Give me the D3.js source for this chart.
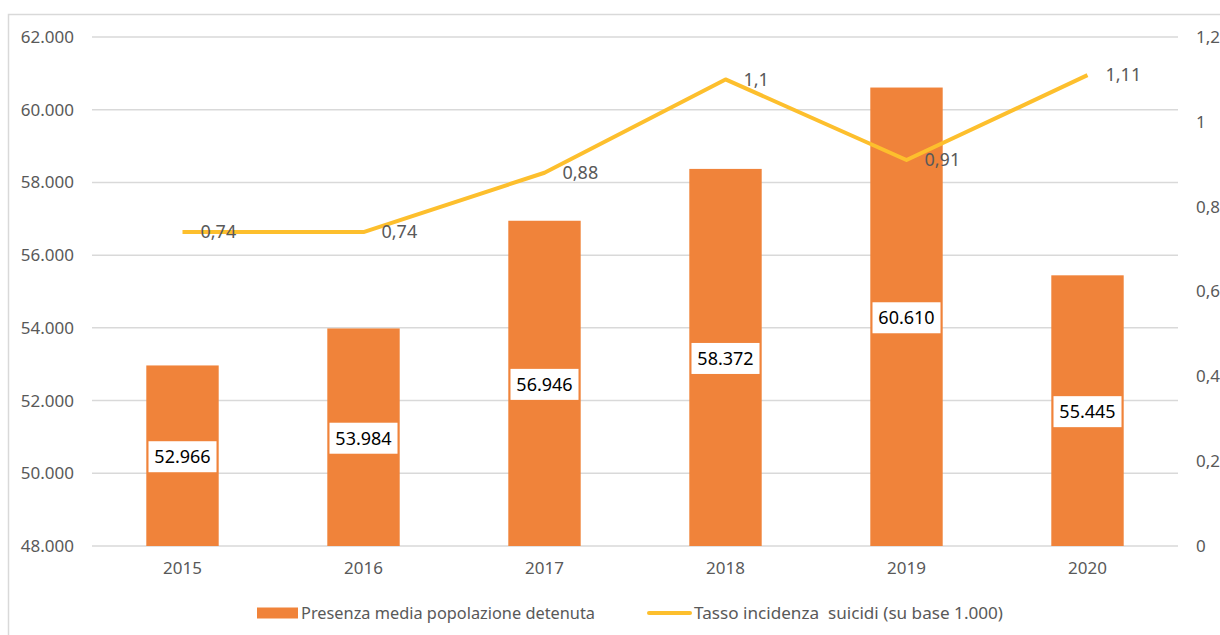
<!DOCTYPE html>
<html>
<head>
<meta charset="utf-8">
<script src="https://cdn.jsdelivr.net/npm/d3@7"></script>
<style>
  body { margin: 0; background: #fff; }
  text { font-family: "Noto Sans", sans-serif; }
</style>
</head>
<body>
<div id="chart-area"></div>
<script>
const years = ["2015", "2016", "2017", "2018", "2019", "2020"];
const detenuti = [52966, 53984, 56946, 58372, 60610, 55445];
const tasso = [0.74, 0.74, 0.88, 1.1, 0.91, 1.11];
const leftTicks = [48000, 50000, 52000, 54000, 56000, 58000, 60000, 62000];
const rightTicks = [0, 0.2, 0.4, 0.6, 0.8, 1, 1.2];

const W = 1220, H = 635;
const margin = {top: 37, right: 42, bottom: 89, left: 92},
    width = W - margin.left - margin.right,
    height = H - margin.top - margin.bottom;

const itNum = d3.formatLocale({decimal: ",", thousands: ".", grouping: [3], currency: ["€", ""]});
const fmtInt = itNum.format(",.0f");
const fmtRate = v => String(v).replace(".", ",");

const svg = d3.select("#chart-area").append("svg")
    .attr("width", W).attr("height", H);

// chart border
svg.append("rect")
    .attr("x", 8.5).attr("y", 14.5)
    .attr("width", W + 10).attr("height", H + 10)
    .attr("fill", "none").attr("stroke", "#d9d9d9").attr("stroke-width", 1.5);

const g = svg.append("g").attr("transform", `translate(${margin.left},${margin.top})`);

//--------------------------- SCALES
const x = d3.scaleBand().domain(years).range([0, width]).paddingInner(0.6).paddingOuter(0.3);
const y = d3.scaleLinear().domain([48000, 62000]).range([height, 0]);
const y2 = d3.scaleLinear().domain([0, 1.2]).range([height, 0]);
const cx = d => x(d) + x.bandwidth() / 2;

//--------------------------- GRID
g.append("g")
    .selectAll("line").data(leftTicks).join("line")
    .attr("x1", 0).attr("x2", width)
    .attr("y1", d => y(d)).attr("y2", d => y(d))
    .attr("stroke", "#d9d9d9").attr("stroke-width", 1.5);

//--------------------------- AXES
const yAxis = g.append("g")
    .call(d3.axisLeft(y).tickValues(leftTicks).tickSize(0).tickPadding(18).tickFormat(fmtInt));
yAxis.select(".domain").remove();
yAxis.selectAll("text").attr("fill", "#595959").attr("font-size", 17);

const yAxis2 = g.append("g").attr("transform", `translate(${width},0)`)
    .call(d3.axisRight(y2).tickValues(rightTicks).tickSize(0).tickPadding(18).tickFormat(fmtRate));
yAxis2.select(".domain").remove();
yAxis2.selectAll("text").attr("fill", "#595959").attr("font-size", 17);

const xAxis = g.append("g").attr("transform", `translate(0,${height})`)
    .call(d3.axisBottom(x).tickSize(0).tickPadding(16));
xAxis.select(".domain").remove();
xAxis.selectAll("text").attr("fill", "#595959").attr("font-size", 17);

//--------------------------- BARS
g.append("g").selectAll("rect").data(years).join("rect")
    .attr("x", d => x(d))
    .attr("width", x.bandwidth())
    .attr("y", (d, i) => y(detenuti[i]))
    .attr("height", (d, i) => height - y(detenuti[i]))
    .attr("fill", "#f0833a");

// bar labels in white boxes
const bl = g.append("g").selectAll("g").data(years).join("g")
    .attr("transform", (d, i) => `translate(${cx(d)},${(y(detenuti[i]) + height) / 2 + 1})`);
bl.append("rect")
    .attr("x", -34).attr("y", -15.5).attr("width", 68).attr("height", 31)
    .attr("fill", "#fff");
bl.append("text")
    .attr("text-anchor", "middle").attr("dy", "0.36em")
    .attr("font-size", 18).attr("fill", "#000")
    .text((d, i) => fmtInt(detenuti[i]));

//--------------------------- LINE
const line = d3.line().x((d, i) => cx(years[i])).y(d => y2(d));
g.append("path").datum(tasso)
    .attr("d", line)
    .attr("fill", "none").attr("stroke", "#fdbf2d").attr("stroke-width", 4)
    .attr("stroke-linejoin", "round");

g.append("g").selectAll("text").data(tasso).join("text")
    .attr("x", (d, i) => cx(years[i]) + 18)
    .attr("y", d => y2(d))
    .attr("dy", "0.35em")
    .attr("font-size", 18).attr("fill", "#595959")
    .text(d => fmtRate(d));

//--------------------------- LEGEND
const leg = svg.append("g").attr("transform", "translate(0,613)");
leg.append("rect").attr("x", 257).attr("y", -5.5).attr("width", 41).attr("height", 11).attr("fill", "#f0833a");
leg.append("text").attr("x", 301).attr("dy", "0.35em").attr("font-size", 16).attr("fill", "#595959")
    .attr("textLength", 294).attr("lengthAdjust", "spacingAndGlyphs")
    .text("Presenza media popolazione detenuta");
leg.append("line").attr("x1", 649).attr("x2", 690).attr("y1", 0).attr("y2", 0)
    .attr("stroke", "#fdbf2d").attr("stroke-width", 4).attr("stroke-linecap", "round");
leg.append("text").attr("x", 694).attr("dy", "0.35em").attr("font-size", 16).attr("fill", "#595959")
    .attr("textLength", 309).attr("lengthAdjust", "spacingAndGlyphs")
    .style("white-space", "pre")
    .text("Tasso incidenza  suicidi (su base 1.000)");
</script>
</body>
</html>
